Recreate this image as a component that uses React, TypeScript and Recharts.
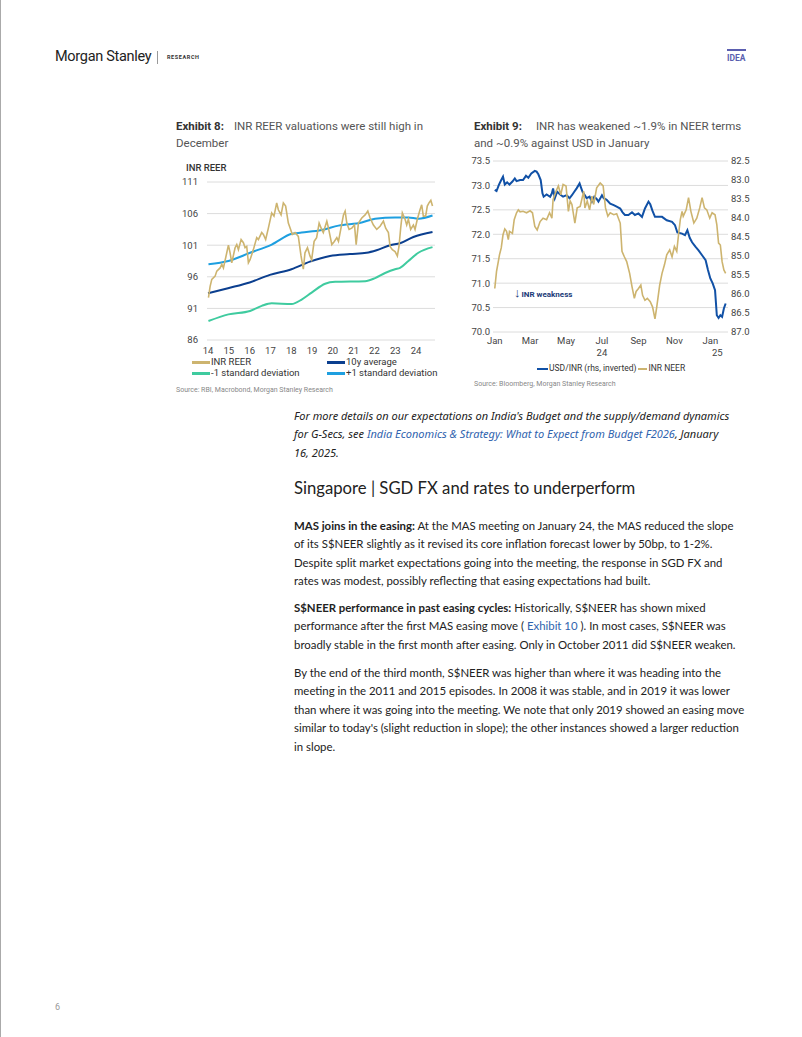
import React from "react";
import { LineChart, Line, XAxis, YAxis, CartesianGrid } from "recharts";

// ---- Exhibit 8: INR REER (x = year as decimal) ----
const reerYears = [
  2014.02, 2014.1, 2014.18, 2014.34, 2014.42, 2014.58, 2014.66, 2014.74, 2014.9, 2014.98,
  2015.06, 2015.14, 2015.3, 2015.38, 2015.46, 2015.59, 2015.7, 2015.78, 2015.86, 2015.94,
  2016.02, 2016.18, 2016.34, 2016.42, 2016.58, 2016.66, 2016.77, 2016.9,
  2017.06, 2017.17, 2017.3, 2017.38, 2017.51, 2017.62, 2017.73, 2017.86, 2017.97,
  2018.05, 2018.18, 2018.34, 2018.47, 2018.58, 2018.66, 2018.78, 2018.9, 2018.98,
  2019.1, 2019.22, 2019.34, 2019.46, 2019.54, 2019.71, 2019.79, 2019.95,
  2020.07, 2020.19, 2020.27, 2020.39, 2020.51, 2020.59, 2020.67, 2020.78, 2020.91,
  2021.04, 2021.12, 2021.23, 2021.39, 2021.55, 2021.68, 2021.79, 2021.95,
  2022.11, 2022.27, 2022.43, 2022.54, 2022.67, 2022.75, 2022.86, 2022.99,
  2023.1, 2023.18, 2023.26, 2023.34, 2023.47, 2023.55, 2023.63, 2023.74, 2023.87, 2023.95,
  2024.06, 2024.19, 2024.27, 2024.35, 2024.46, 2024.54, 2024.62, 2024.71, 2024.79,
];
const reerValues = [
  92.7, 94.5, 95.6, 96.1, 96.9, 97.4, 98.0, 97.4, 99.8, 101.0,
  99.8, 98.2, 100.6, 101.1, 100.3, 101.9, 101.4, 100.6, 100.8, 98.2,
  98.7, 100.3, 102.2, 101.9, 103.0, 102.7, 101.9, 103.7,
  106.1, 105.6, 107.7, 106.6, 105.8, 107.7, 107.2, 104.5, 103.5,
  102.7, 103.0, 102.4, 99.3, 97.2, 99.8, 100.6, 99.3, 98.7,
  101.6, 102.2, 104.5, 103.5, 103.0, 104.8, 103.7, 101.1,
  101.6, 102.2, 101.6, 103.7, 105.8, 106.4, 104.5, 103.5, 103.7,
  104.2, 101.1, 104.5, 105.3, 105.8, 106.4, 105.3, 104.2,
  103.5, 104.0, 104.8, 103.7, 103.0, 100.8, 100.3, 100.0,
  99.3, 100.8, 103.7, 106.1, 105.1, 104.2, 105.1, 103.5, 104.2, 103.5,
  105.1, 106.6, 107.4, 105.6, 105.6, 107.2, 107.7, 108.1, 107.2,
];
const avgYears = [2014.0, 2014.96, 2016.0, 2016.97, 2018.01, 2018.9, 2019.86, 2020.82, 2021.62, 2022.1, 2022.75, 2023.23, 2023.87, 2024.79];
const avgValues = [93.4, 94.2, 95.1, 96.3, 97.2, 98.4, 99.3, 99.6, 99.8, 100.2, 101.0, 101.3, 102.3, 103.1];
const upYears = [2014.02, 2014.98, 2016.02, 2017.06, 2018.02, 2018.5, 2019.46, 2020.27, 2021.39, 2022.03, 2022.99, 2023.63, 2024.11, 2024.79];
const upValues = [98.0, 98.5, 99.8, 101.1, 102.8, 103.0, 103.4, 104.1, 104.6, 105.2, 105.4, 105.4, 105.2, 105.7];
const loYears = [2014.02, 2014.98, 2016.02, 2016.58, 2017.06, 2018.02, 2018.5, 2018.98, 2019.63, 2020.11, 2021.55, 2022.03, 2022.51, 2022.99, 2023.23, 2023.63, 2024.11, 2024.79];
const loValues = [89.0, 90.05, 90.6, 91.4, 91.8, 91.7, 92.4, 93.5, 94.9, 95.2, 95.3, 95.8, 96.6, 97.2, 97.4, 98.5, 99.8, 100.7];
const yearTicks = [2014, 2015, 2016, 2017, 2018, 2019, 2020, 2021, 2022, 2023, 2024];
const reerTicks = [86, 91, 96, 101, 106, 111];

// ---- Exhibit 9: USD/INR (rhs, inverted) and INR NEER ----
const usdDates = [
  "2024-01-01", "2024-01-04", "2024-01-08", "2024-01-12", "2024-01-15", "2024-01-18", "2024-01-22", "2024-01-26", "2024-01-31",
  "2024-02-04", "2024-02-07", "2024-02-13", "2024-02-18", "2024-02-23", "2024-02-27",
  "2024-03-03", "2024-03-09", "2024-03-12", "2024-03-15", "2024-03-19", "2024-03-22", "2024-03-24", "2024-03-29",
  "2024-04-04", "2024-04-07", "2024-04-09", "2024-04-12", "2024-04-16", "2024-04-21", "2024-04-26",
  "2024-05-02", "2024-05-07", "2024-05-11", "2024-05-15", "2024-05-19", "2024-05-24", "2024-05-26", "2024-05-29",
  "2024-06-02", "2024-06-05", "2024-06-10", "2024-06-14", "2024-06-18", "2024-06-22", "2024-06-25",
  "2024-07-01", "2024-07-04", "2024-07-09", "2024-07-15", "2024-07-21", "2024-07-26",
  "2024-08-01", "2024-08-05", "2024-08-09", "2024-08-15", "2024-08-21", "2024-08-26",
  "2024-09-01", "2024-09-07", "2024-09-12", "2024-09-18", "2024-09-21", "2024-09-25", "2024-09-29",
  "2024-10-05", "2024-10-11", "2024-10-19", "2024-10-28",
  "2024-11-02", "2024-11-06", "2024-11-14", "2024-11-19", "2024-11-23", "2024-11-27",
  "2024-12-01", "2024-12-07", "2024-12-12", "2024-12-18", "2024-12-24", "2024-12-28",
  "2025-01-01", "2025-01-05", "2025-01-09", "2025-01-12", "2025-01-15", "2025-01-18", "2025-01-21", "2025-01-24", "2025-01-27",
];
const usdValues = [
  83.26, 83.29, 83.13, 83.0, 82.91, 83.12, 83.06, 83.12, 83.04, 82.96,
  83.03, 83.0, 83.0, 82.89, 82.94, 82.83, 82.76, 82.78, 82.85, 83.0,
  83.35, 83.44, 83.38, 83.44, 83.35, 83.22, 83.48, 83.31, 83.38, 83.44,
  83.4, 83.48, 83.4, 83.31, 83.22, 83.09, 83.18, 83.31, 83.4, 83.48,
  83.44, 83.57, 83.44, 83.5, 83.57, 83.4, 83.48, 83.52, 83.62, 83.66,
  83.7, 83.75, 83.85, 83.92, 83.92, 83.85, 83.92, 83.88, 83.97, 83.75,
  83.57, 83.64, 83.82, 83.97, 83.97, 83.97, 84.06, 84.1, 84.19, 84.38,
  84.41, 84.45, 84.32, 84.52, 84.64, 84.76, 84.85, 84.98, 85.11, 85.37,
  85.59, 85.72, 85.9, 86.56, 86.63, 86.56, 86.6, 86.38, 86.25,
];
const neerDates = [
  "2024-01-01", "2024-01-04", "2024-01-07", "2024-01-09", "2024-01-12", "2024-01-15", "2024-01-18", "2024-01-21", "2024-01-24", "2024-01-26",
  "2024-01-31", "2024-02-03", "2024-02-07", "2024-02-10", "2024-02-13", "2024-02-18", "2024-02-24", "2024-03-01", "2024-03-05", "2024-03-09",
  "2024-03-13", "2024-03-18", "2024-03-23", "2024-03-29", "2024-04-03", "2024-04-07", "2024-04-09", "2024-04-14", "2024-04-18", "2024-04-22",
  "2024-04-26", "2024-05-01", "2024-05-05", "2024-05-08", "2024-05-11", "2024-05-16", "2024-05-20", "2024-05-25", "2024-05-31", "2024-06-02",
  "2024-06-06", "2024-06-10", "2024-06-14", "2024-06-17", "2024-06-22", "2024-06-28", "2024-07-03", "2024-07-07", "2024-07-11", "2024-07-15",
  "2024-07-21", "2024-07-26", "2024-08-01", "2024-08-04", "2024-08-08", "2024-08-12", "2024-08-17", "2024-08-21", "2024-08-25", "2024-08-28",
  "2024-09-01", "2024-09-05", "2024-09-08", "2024-09-12", "2024-09-16", "2024-09-21", "2024-09-25", "2024-09-29", "2024-10-02", "2024-10-07",
  "2024-10-11", "2024-10-15", "2024-10-19", "2024-10-24", "2024-10-28", "2024-11-01", "2024-11-05", "2024-11-08", "2024-11-11", "2024-11-14",
  "2024-11-16", "2024-11-21", "2024-11-25", "2024-11-29", "2024-12-04", "2024-12-09", "2024-12-14", "2024-12-18", "2024-12-22", "2024-12-26",
  "2024-12-31", "2025-01-04", "2025-01-09", "2025-01-12", "2025-01-15", "2025-01-18", "2025-01-21", "2025-01-24", "2025-01-27",
];
const neerValues = [
  70.89, 71.24, 71.44, 71.58, 71.72, 71.99, 72.11, 72.06, 71.89, 72.06,
  72.02, 72.3, 72.44, 72.5, 72.46, 72.47, 72.44, 72.48, 72.44, 72.16,
  72.09, 72.26, 72.33, 72.3, 72.44, 72.33, 72.71, 72.88, 72.99, 72.81,
  73.02, 72.99, 72.47, 72.68, 72.61, 72.23, 72.54, 72.57, 72.88, 72.54,
  72.68, 72.5, 72.78, 72.61, 72.95, 73.05, 72.99, 72.54, 72.37, 72.44,
  72.4, 72.42, 72.23, 71.65, 71.54, 71.44, 71.2, 70.93, 70.69, 70.83,
  70.89, 70.96, 70.75, 70.65, 70.69, 70.62, 70.51, 70.27, 70.51, 70.96,
  71.2, 71.37, 71.58, 71.68, 71.54, 71.75, 71.65, 71.99, 72.3, 72.47,
  72.37, 72.5, 72.75, 72.47, 72.23, 72.33, 72.54, 72.75, 72.54, 72.5,
  72.33, 72.44, 72.4, 72.2, 71.82, 71.78, 71.44, 71.27, 71.2,
];
const monthTicks = ["2024-01-01", "2024-03-01", "2024-05-01", "2024-07-01", "2024-09-01", "2024-11-01", "2025-01-01"];
const monthNames = ["Jan", "Feb", "Mar", "Apr", "May", "Jun", "Jul", "Aug", "Sep", "Oct", "Nov", "Dec"];
const neerTicks = [70, 70.5, 71, 71.5, 72, 72.5, 73, 73.5];
const usdTicks = [82.5, 83, 83.5, 84, 84.5, 85, 85.5, 86, 86.5, 87];

const GOLD = "#CDB46F";
const NAVY = "#0B3F8F";
const SKY = "#1E9FE0";
const TEAL = "#3FCB9F";
const BLUE = "#1151A6";

const pts = (xs: number[], ys: number[]) => xs.map((x, i) => ({ x, y: ys[i] }));
const datePts = (ds: string[], ys: number[]) => ds.map((d, i) => ({ x: Date.parse(d), y: ys[i] }));

const tickFont = { fontSize: 9.5, fill: "#444", fontFamily: "Roboto" };

function MonthTick({ x, y, payload }: any) {
  const d = new Date(payload.value);
  const m = d.getUTCMonth();
  const yr = d.getUTCFullYear() % 100;
  const showYear = m === 6 || (m === 0 && yr === 25);
  return (
    <g transform={`translate(${x},${y})`}>
      <text x={0} y={0} dy="0.71em" textAnchor="middle" {...tickFont}>{monthNames[m]}</text>
      {showYear && (
        <text x={m === 0 ? 7 : 0} y={12} dy="0.71em" textAnchor="middle" {...tickFont}>{yr}</text>
      )}
    </g>
  );
}

function Swatch({ color, w = 18 }: { color: string; w?: number }) {
  return <span style={{ display: "inline-block", width: w, height: 2.5, background: color, verticalAlign: "middle", marginRight: 1 }} />;
}

const title = { position: "absolute" as const, fontFamily: "Roboto", fontSize: 11.5, lineHeight: "17px", color: "#555" };
const source = { position: "absolute" as const, fontFamily: "Roboto", fontSize: 7, color: "#888" };
const body = { position: "absolute" as const, left: 294, fontFamily: "Lato", fontSize: 11.4, lineHeight: "18.4px", color: "#222", whiteSpace: "nowrap" as const };
const link = { color: "#2F63AE" };

export default function App() {
  return (
    <div style={{ position: "absolute", left: 0, top: 0, width: 802, height: 1037, background: "#fff", overflow: "hidden" }}>
      <div style={{ position: "absolute", left: 0, top: 0, width: 1, height: 1037, background: "#aaa" }} />

      {/* header */}
      <div style={{ position: "absolute", left: 55, top: 48, fontFamily: "Roboto", fontSize: 14.5, color: "#222", letterSpacing: -0.3 }}>Morgan Stanley</div>
      <div style={{ position: "absolute", left: 157, top: 51, width: 1, height: 13, background: "#999" }} />
      <div style={{ position: "absolute", left: 167, top: 54, fontFamily: "Roboto", fontSize: 5.5, fontWeight: 700, letterSpacing: 0.6, color: "#333" }}>RESEARCH</div>
      <div style={{ position: "absolute", left: 727, top: 49, width: 19, height: 2, background: "#5B5FB0" }} />
      <div style={{ position: "absolute", left: 727, top: 53, fontFamily: "Roboto", fontSize: 8.5, fontWeight: 700, color: "#5B5FB0" }}>IDEA</div>

      {/* Exhibit 8 */}
      <div style={{ ...title, left: 176, top: 118 }}>
        <b style={{ color: "#333", marginRight: 10 }}>Exhibit 8:</b>INR REER valuations were still high in<br />December
      </div>
      <div style={{ position: "absolute", left: 186, top: 162, fontFamily: "Roboto", fontSize: 9.5, fontWeight: 500, color: "#333" }}>INR REER</div>
      <div style={{ position: "absolute", left: 170, top: 160 }}>
        <LineChart width={275} height={200} margin={{ top: 22, right: 10, bottom: 0, left: 0 }}>
          <CartesianGrid vertical={false} stroke="#dcdcdc" />
          <XAxis dataKey="x" type="number" domain={[2013.95, 2024.91]} ticks={yearTicks} allowDataOverflow interval={0}
            tickFormatter={(v: number) => String(v).slice(2)} axisLine={false} tickLine={false} tickSize={0} tickMargin={7} height={20} tick={tickFont} />
          <YAxis type="number" domain={[86, 111]} ticks={reerTicks} allowDataOverflow interval={0} axisLine={false} tickLine={false} tickSize={0} tickMargin={9} width={37} tick={tickFont} />
          <Line data={pts(loYears, loValues)} dataKey="y" type="monotone" stroke={TEAL} strokeWidth={2} dot={false} isAnimationActive={false} />
          <Line data={pts(avgYears, avgValues)} dataKey="y" type="monotone" stroke={NAVY} strokeWidth={2} dot={false} isAnimationActive={false} />
          <Line data={pts(upYears, upValues)} dataKey="y" type="monotone" stroke={SKY} strokeWidth={2} dot={false} isAnimationActive={false} />
          <Line data={pts(reerYears, reerValues)} dataKey="y" type="linear" stroke={GOLD} strokeWidth={1.6} dot={false} isAnimationActive={false} />
        </LineChart>
      </div>
      <div style={{ position: "absolute", left: 192, top: 356, fontFamily: "Roboto", fontSize: 9.5, lineHeight: "11px", color: "#333" }}>
        <div><Swatch color={GOLD} />INR REER</div>
        <div><Swatch color={TEAL} />-1 standard deviation</div>
      </div>
      <div style={{ position: "absolute", left: 327, top: 356, fontFamily: "Roboto", fontSize: 9.5, lineHeight: "11px", color: "#333" }}>
        <div><Swatch color={NAVY} />10y average</div>
        <div><Swatch color={SKY} />+1 standard deviation</div>
      </div>
      <div style={{ ...source, left: 176, top: 386 }}>Source: RBI, Macrobond, Morgan Stanley Research</div>

      {/* Exhibit 9 */}
      <div style={{ ...title, left: 474, top: 118 }}>
        <b style={{ color: "#333", marginRight: 14 }}>Exhibit 9:</b>INR has weakened ~1.9% in NEER terms<br />and ~0.9% against USD in January
      </div>
      <div style={{ position: "absolute", left: 466, top: 150 }}>
        <LineChart width={290} height={215} margin={{ top: 11, right: 0, bottom: 0, left: 0 }}>
          <CartesianGrid vertical={false} stroke="#dcdcdc" yAxisId="left" />
          <XAxis dataKey="x" type="number" domain={[Date.parse("2023-12-29"), Date.parse("2025-01-31")]} allowDataOverflow interval={0}
            ticks={monthTicks.map((d) => Date.parse(d))} tick={<MonthTick />} axisLine={false} tickLine={false} tickSize={0} tickMargin={5} height={33} />
          <YAxis yAxisId="left" type="number" domain={[70, 73.5]} ticks={neerTicks} allowDataOverflow interval={0}
            tickFormatter={(v: number) => v.toFixed(1)} axisLine={false} tickLine={false} tickSize={0} tickMargin={3} width={27} tick={tickFont} />
          <YAxis yAxisId="right" orientation="right" type="number" domain={[82.5, 87]} reversed ticks={usdTicks} allowDataOverflow interval={0}
            tickFormatter={(v: number) => v.toFixed(1)} axisLine={false} tickLine={false} tickSize={0} tickMargin={3} width={28} tick={{ ...tickFont, textAnchor: "start" }} />
          <Line yAxisId="right" data={datePts(usdDates, usdValues)} dataKey="y" type="linear" stroke={BLUE} strokeWidth={2} dot={false} isAnimationActive={false} />
          <Line yAxisId="left" data={datePts(neerDates, neerValues)} dataKey="y" type="linear" stroke={GOLD} strokeWidth={1.6} dot={false} isAnimationActive={false} />
        </LineChart>
      </div>
      <div style={{ position: "absolute", left: 514, top: 285, fontFamily: "Roboto", fontSize: 8, fontWeight: 700, color: "#1B3A78", whiteSpace: "nowrap" }}>
        <span style={{ fontWeight: 400, fontSize: 13, marginRight: 1 }}>↓</span>INR weakness
      </div>
      <div style={{ position: "absolute", left: 537, top: 363, fontFamily: "Roboto", fontSize: 8.5, lineHeight: "11px", color: "#333", whiteSpace: "nowrap" }}>
        <Swatch color={BLUE} w={11} />USD/INR (rhs, inverted)<span style={{ display: "inline-block", width: 2 }} /><Swatch color={GOLD} w={9} />INR NEER
      </div>
      <div style={{ ...source, left: 474, top: 380 }}>Source: Bloomberg, Morgan Stanley Research</div>

      {/* body text */}
      <div style={{ ...body, top: 407, fontStyle: "italic", fontFamily: "Noto Sans", fontSize: 11 }}>
        <div>For more details on our expectations on India's Budget and the supply/demand dynamics</div>
        <div>for G-Secs, see <span style={link}>India Economics &amp; Strategy: What to Expect from Budget F2026</span>, January</div>
        <div>16, 2025.</div>
      </div>
      <div style={{ ...body, top: 476, fontSize: 16.7, lineHeight: "24px" }}>Singapore | SGD FX and rates to underperform</div>
      <div style={{ ...body, top: 517 }}>
        <div><b>MAS joins in the easing:</b> At the MAS meeting on January 24, the MAS reduced the slope</div>
        <div>of its S$NEER slightly as it revised its core inflation forecast lower by 50bp, to 1-2%.</div>
        <div>Despite split market expectations going into the meeting, the response in SGD FX and</div>
        <div>rates was modest, possibly reflecting that easing expectations had built.</div>
      </div>
      <div style={{ ...body, top: 599 }}>
        <div><b>S$NEER performance in past easing cycles:</b> Historically, S$NEER has shown mixed</div>
        <div>performance after the first MAS easing move ( <span style={link}>Exhibit 10</span> ). In most cases, S$NEER was</div>
        <div>broadly stable in the first month after easing. Only in October 2011 did S$NEER weaken.</div>
      </div>
      <div style={{ ...body, top: 664 }}>
        <div>By the end of the third month, S$NEER was higher than where it was heading into the</div>
        <div>meeting in the 2011 and 2015 episodes. In 2008 it was stable, and in 2019 it was lower</div>
        <div>than where it was going into the meeting. We note that only 2019 showed an easing move</div>
        <div>similar to today's (slight reduction in slope); the other instances showed a larger reduction</div>
        <div>in slope.</div>
      </div>

      <div style={{ position: "absolute", left: 55, top: 1002, fontFamily: "Roboto", fontSize: 9, color: "#999" }}>6</div>
    </div>
  );
}
